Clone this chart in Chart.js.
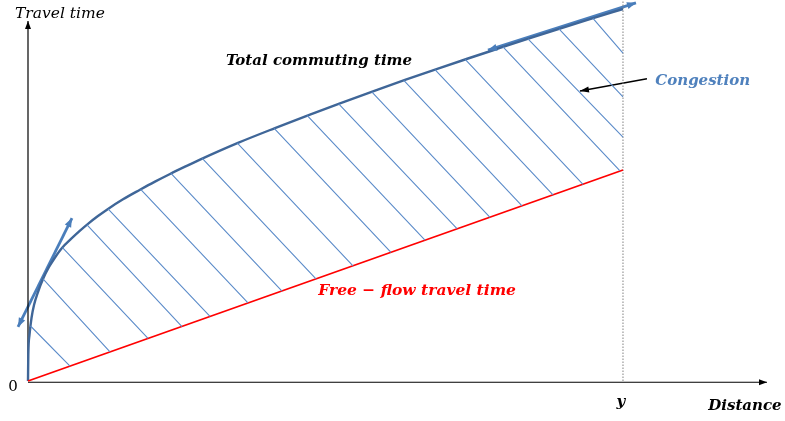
<!DOCTYPE html>
<html>
<head>
<meta charset="utf-8">
<script src="https://cdn.jsdelivr.net/npm/chart.js@4/dist/chart.umd.min.js"></script>
<style>
  html, body { margin: 0; padding: 0; background: #fff; }
  #wrap { width: 785px; height: 421px; position: relative; }
</style>
</head>
<body>
<div id="wrap"><canvas id="chart-commute"></canvas></div>
<script>
// distance units: y (the marked distance) = 100; time units: free-flow time at y = 50
const curveX = [0, 0.05, 0.25, 0.59, 1.01, 1.68, 2.52, 3.53, 4.54, 5.71, 7.23, 8.74, 10.08, 11.76, 13.45, 15.97, 18.82, 21.34, 23.87, 26.39, 28.91, 35.29, 41.51, 47.39, 52.44, 57.98, 63.36, 68.91, 73.95, 79.33, 84.37, 89.41, 94.45, 100];
const curveY = [0, 6.16, 10.9, 14.93, 18.01, 21.09, 24.17, 27.01, 29.27, 31.52, 33.65, 35.62, 37.23, 39.08, 40.78, 43.06, 45.31, 47.23, 49.05, 50.78, 52.46, 56.42, 59.93, 63.13, 65.78, 68.63, 71.33, 74.03, 76.42, 78.91, 81.23, 83.51, 85.73, 88.15];

const freeFlowX = [0, 100];
const freeFlowY = [0, 50];

// hatching between the two curves (start on total time, end on free-flow / y line)
const hatchFromX = [0.42, 2.52, 5.80, 9.92, 13.45, 18.94, 24.03, 29.29, 35.19, 41.38, 46.94, 52.22, 57.78, 63.16, 68.40, 73.48, 79.83, 84.03, 89.24, 94.96];
const hatchFromY = [13.03, 24.17, 31.61, 36.97, 40.78, 45.40, 49.19, 52.73, 56.35, 59.86, 62.89, 65.69, 68.53, 71.23, 73.79, 76.21, 79.15, 81.07, 83.44, 85.95];
const hatchToX = [7.06, 13.78, 20.17, 25.88, 30.59, 36.97, 42.69, 48.40, 54.62, 61.01, 66.72, 72.10, 77.65, 83.03, 88.24, 93.28, 99.5, 100, 100, 100];
const hatchToY = [3.5, 6.9, 10.1, 12.9, 15.3, 18.5, 21.3, 24.2, 27.3, 30.5, 33.4, 36.1, 38.8, 41.5, 44.1, 46.6, 49.8, 57.8, 67.3, 77.7];

// tangent arrows and the congestion pointer
const tangentLowX = [-1.68, 7.39];
const tangentLowY = [12.8, 38.6];
const tangentHighX = [77.31, 102.18];
const tangentHighY = [78.4, 89.6];
const pointerX = [104.03, 92.77];
const pointerY = [71.6, 68.7];

const yAxisTop = 85.3;
const xAxisEnd = 124.2;
const markY = 100;

function pts(xs, ys) {
    return xs.map(function (x, i) { return { x: x, y: ys[i] }; });
}

const hatchData = [];
hatchFromX.forEach(function (x, i) {
    hatchData.push({ x: x, y: hatchFromY[i] });
    hatchData.push({ x: hatchToX[i], y: hatchToY[i] });
    hatchData.push({ x: hatchToX[i], y: null });
});

const labels = [
    { text: 'Travel time', x: -2.18, y: 86.0, align: 'left', font: 'italic 15.5px "DejaVu Serif"', color: '#000' },
    { text: 'Total commuting time', x: 48.9, y: 74.9, align: 'center', font: 'italic bold 15px "DejaVu Serif"', color: '#000' },
    { text: 'Congestion', x: 113.4, y: 70.1, align: 'center', font: 'italic bold 15px "DejaVu Serif"', color: '#4F81BD' },
    { text: 'Free \u2212 flow travel time', x: 65.4, y: 20.4, align: 'center', font: 'italic bold 15.5px "DejaVu Serif"', color: '#FF0000' },
    { text: '0', x: -2.52, y: -2.4, align: 'center', font: '15px "DejaVu Serif"', color: '#000' },
    { text: 'y', x: 99.66, y: -5.9, align: 'center', font: 'italic bold 15px "DejaVu Serif"', color: '#000' },
    { text: 'Distance', x: 120.5, y: -6.9, align: 'center', font: 'italic bold 15px "DejaVu Serif"', color: '#000' }
];

function head(ctx, from, to, len, wid, color) {
    const a = Math.atan2(to.y - from.y, to.x - from.x);
    ctx.save();
    ctx.fillStyle = color;
    ctx.translate(to.x, to.y);
    ctx.rotate(a);
    ctx.beginPath();
    ctx.moveTo(0, 0);
    ctx.lineTo(-len, wid / 2);
    ctx.lineTo(-len, -wid / 2);
    ctx.closePath();
    ctx.fill();
    ctx.restore();
}

const decorations = {
    id: 'decorations',
    afterDatasetsDraw(chart) {
        const ctx = chart.ctx;
        chart.data.datasets.forEach(function (ds, i) {
            if (!ds.arrows) return;
            const el = chart.getDatasetMeta(i).data;
            const p0 = el[0], p1 = el[1], pn = el[el.length - 1], pm = el[el.length - 2];
            if (ds.arrows === 'both') head(ctx, p1, p0, ds.headLen, ds.headWid, ds.borderColor);
            head(ctx, pm, pn, ds.headLen, ds.headWid, ds.borderColor);
        });
        const xs = chart.scales.x, ys = chart.scales.y;
        ctx.save();
        ctx.textBaseline = 'alphabetic';
        labels.forEach(function (l) {
            ctx.font = l.font;
            ctx.fillStyle = l.color;
            ctx.textAlign = l.align;
            ctx.fillText(l.text, xs.getPixelForValue(l.x), ys.getPixelForValue(l.y));
        });
        ctx.restore();
    }
};

const ctxCommute = document.getElementById('chart-commute').getContext('2d');

const chartCommute = new Chart(ctxCommute, {
    type: 'line',
    data: {
        datasets: [
            {
                label: 'Hatching',
                data: hatchData,
                borderColor: '#5B8BC9',
                borderWidth: 1.1,
                pointRadius: 0,
                spanGaps: false,
                fill: false
            },
            {
                label: 'Free-flow travel time',
                data: pts(freeFlowX, freeFlowY),
                borderColor: '#FF0000',
                borderWidth: 1.8,
                pointRadius: 0,
                fill: false
            },
            {
                label: 'Total commuting time',
                data: pts(curveX, curveY),
                borderColor: '#3F6698',
                borderWidth: 2.4,
                pointRadius: 0,
                cubicInterpolationMode: 'monotone',
                fill: false
            },
            {
                label: 'y',
                data: [{ x: markY, y: 0 }, { x: markY, y: 91 }],
                borderColor: '#808080',
                borderWidth: 1,
                borderDash: [1.5, 1.5],
                pointRadius: 0
            },
            {
                label: 'Time axis',
                data: [{ x: 0, y: 0 }, { x: 0, y: yAxisTop }],
                borderColor: '#000',
                borderWidth: 1.2,
                pointRadius: 0,
                arrows: 'end', headLen: 8, headWid: 6
            },
            {
                label: 'Distance axis',
                data: [{ x: 0, y: -0.3 }, { x: xAxisEnd, y: -0.3 }],
                borderColor: '#000',
                borderWidth: 1.2,
                pointRadius: 0,
                arrows: 'end', headLen: 8, headWid: 6
            },
            {
                label: 'Tangent low',
                data: pts(tangentLowX, tangentLowY),
                borderColor: '#4A7EBB',
                borderWidth: 2.8,
                pointRadius: 0,
                arrows: 'both', headLen: 9, headWid: 7
            },
            {
                label: 'Tangent high',
                data: pts(tangentHighX, tangentHighY),
                borderColor: '#4A7EBB',
                borderWidth: 2.8,
                pointRadius: 0,
                arrows: 'both', headLen: 9, headWid: 7
            },
            {
                label: 'Pointer',
                data: pts(pointerX, pointerY),
                borderColor: '#000',
                borderWidth: 1.5,
                pointRadius: 0,
                arrows: 'end', headLen: 9, headWid: 6
            }
        ]
    },
    options: {
        responsive: true,
        maintainAspectRatio: false,
        animation: false,
        layout: { padding: 0 },
        plugins: { legend: { display: false }, tooltip: { enabled: false } },
        scales: {
            x: { type: 'linear', display: false, min: -4.706, max: 127.23 },
            y: { type: 'linear', display: false, min: -9.48, max: 90.28 }
        }
    },
    plugins: [decorations]
});
</script>
</body>
</html>
